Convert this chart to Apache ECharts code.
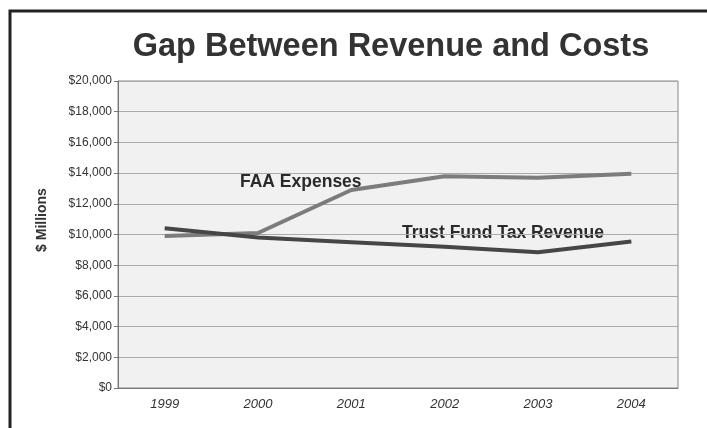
<!DOCTYPE html>
<html>
<head>
<meta charset="utf-8">
<script src="https://cdn.jsdelivr.net/npm/echarts@6/dist/echarts.min.js"></script>
<style>
  html, body { margin: 0; padding: 0; background: #fff; }
  #chart { width: 707px; height: 428px; }
</style>
</head>
<body>
<div id="chart"></div>
<script>
// Years on the x axis
const years = ['1999', '2000', '2001', '2002', '2003', '2004']
// $ millions
const faaExpenses = [9900, 10100, 12900, 13800, 13700, 13950]
const trustFundRevenue = [10400, 9800, 9500, 9200, 8850, 9550]

const chart = echarts.init(document.getElementById('chart'))

const fmtDollars = (v) => '$' + v.toLocaleString('en-US')

chart.setOption({
  backgroundColor: '#fff',
  animation: false,
  title: {
    text: 'Gap Between Revenue and Costs',
    left: 386,
    top: 26,
    textAlign: 'center',
    textStyle: { fontFamily: 'Liberation Sans', fontSize: 32.5, fontWeight: 'bold', color: '#333' },
  },
  grid: { left: 118, right: 29, top: 81, bottom: 40, show: true, backgroundColor: '#f1f1f1', borderColor: '#888', borderWidth: 1 },
  xAxis: {
    type: 'category',
    data: years,
    boundaryGap: true,
    axisLine: { lineStyle: { color: '#777' } },
    axisTick: { show: false },
    axisLabel: { fontFamily: 'Liberation Sans', fontStyle: 'italic', fontSize: 13, color: '#333', margin: 10 },
  },
  yAxis: {
    type: 'value',
    min: 0,
    max: 20000,
    interval: 2000,
    axisLine: { show: true, lineStyle: { color: '#777' } },
    axisTick: { show: true, length: 4, lineStyle: { color: '#777' } },
    axisLabel: { formatter: fmtDollars, fontFamily: 'Liberation Sans', fontSize: 12, color: '#333', margin: 6 },
    splitLine: { lineStyle: { color: '#aaa', width: 1 } },
  },
  series: [
    {
      name: 'FAA Expenses',
      type: 'line',
      data: faaExpenses,
      symbol: 'none',
      lineStyle: { color: '#7c7c7c', width: 4 },
    },
    {
      name: 'Trust Fund Tax Revenue',
      type: 'line',
      data: trustFundRevenue,
      symbol: 'none',
      lineStyle: { color: '#464646', width: 4 },
    },
  ],
  graphic: [
    {
      type: 'rect',
      silent: true,
      shape: { x: 10, y: 11, width: 720, height: 440 },
      style: { fill: 'none', stroke: '#222', lineWidth: 3 },
    },
    {
      type: 'text',
      x: 42,
      y: 220,
      rotation: Math.PI / 2,
      style: { text: '$ Millions', font: 'bold 14px "Liberation Sans"', fill: '#333', align: 'center', verticalAlign: 'middle' },
    },
    {
      type: 'text',
      left: 240,
      top: 173,
      style: { text: 'FAA Expenses', font: 'bold 17.5px "Liberation Sans"', fill: '#2a2a2a' },
    },
    {
      type: 'text',
      left: 402,
      top: 224,
      style: { text: 'Trust Fund Tax Revenue', font: 'bold 17.5px "Liberation Sans"', fill: '#2a2a2a' },
    },
  ],
})
</script>
</body>
</html>
